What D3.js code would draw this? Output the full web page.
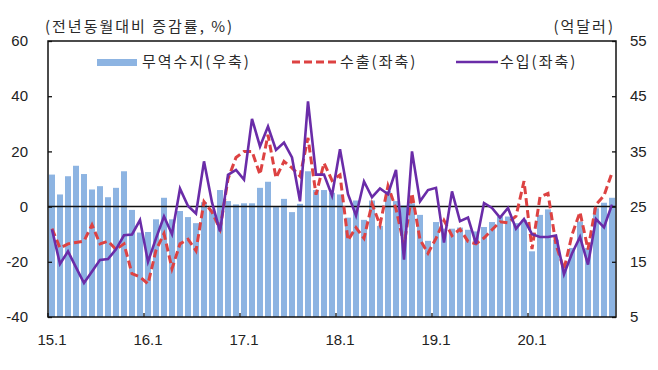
<!DOCTYPE html>
<html>
<head>
<meta charset="utf-8">
<script src="https://cdn.jsdelivr.net/npm/d3@7"></script>
<style>
  body { margin: 0; background: #fff; }
  svg { display: block; }
  .num { font-family: "Liberation Sans", Arial, sans-serif; font-size: 15px; fill: #222; }
  .kor { font-family: "Noto Sans CJK KR", sans-serif; font-size: 15px; fill: #2a2a2a; letter-spacing: 2px; }
</style>
</head>
<body>
<div id="chart"></div>
<script>
// ---- data ----
// monthly, 2015.1 ~ 2020.11
const years = [15, 16, 17, 18, 19, 20];
const lastMonth = 11; // data ends at 20.11

// 무역수지 (억달러, right axis)
const balance = [
  30.8, 27.2, 30.5, 32.4, 30.9, 28.1, 28.7, 26.7, 28.4, 31.4, 24.4, 20.3,
  20.4, 22.7, 26.6, 22.7, 24.2, 23.1, 22.0, 25.8, 24.5, 28.0, 26.0, 25.4,
  25.6, 25.6, 28.4, 29.5, 24.9, 26.4, 24.0, 25.5, 31.4, 28.0, 28.0, 27.5,
  27.2, 23.0, 26.1, 22.6, 26.1, 21.5, 27.8, 26.0, 25.2, 25.6, 23.5, 18.8,
  22.2, 21.0, 21.0, 21.2, 20.8, 20.5, 21.3, 22.2, 23.2, 23.2, 22.0, 22.6,
  16.9, 23.5, 24.5, 19.0, 14.5, 17.5, 22.3, 17.5, 24.7, 25.7, 26.6
];
// 수출 증감률 (%, left axis)
const exports = [
  -8.0, -15.0, -13.5, -13.0, -12.5, -6.6, -13.5, -12.5, -15.5, -13.5, -24.3, -25.5,
  -28.0, -15.8, -9.8, -22.5, -13.5, -11.8, -16.0, 1.8, -2.0, -8.2, 10.0, 17.8,
  20.0, 20.0, 11.6, 26.0, 10.4, 16.4, 14.0, 11.0, 24.9, 4.3, 15.8, 9.5,
  11.5, -12.2, -7.6, -11.5, 1.0, -6.6, 7.5, -0.8, -14.0, 4.8, -12.0, -16.9,
  -11.5, -5.0, -10.5, -8.2, -12.6, -13.5, -11.4, -8.4, -5.5, -5.9, -3.5, 9.2,
  -15.4, 3.5, 4.8, -13.8, -22.8, -10.2, -2.0, -15.5, 0.7, 4.0, 12.2
];
// 수입 증감률 (%, left axis)
const imports = [
  -8.3, -20.8, -16.2, -22.0, -27.7, -23.5, -19.3, -19.0, -15.5, -10.4, -10.1, -4.9,
  -20.0, -11.5, -3.6, -10.0, 6.5, 0.2, -2.5, 16.4, 1.5, -9.0, 11.5, 13.3,
  9.8, 31.8, 21.8, 29.0, 20.5, 23.2, 17.8, 1.9, 38.1, 11.6, 11.6, 4.0,
  20.8, 4.5, -3.2, 9.1, 3.4, 6.6, 4.5, 13.3, -19.2, 20.0, 1.9, 6.0,
  6.8, -13.0, 5.5, -5.3, -4.0, -13.5, 1.3, -0.5, -4.0, -0.5, -8.0, -4.5,
  -10.0, -11.0, -11.0, -10.5, -24.5, -17.0, -11.0, -21.0, -4.5, -7.5, 0.7
];

const leftTicks = [-40, -20, 0, 20, 40, 60];
const rightTicks = [5, 15, 25, 35, 45, 55];
const xTickLabels = ["15.1", "16.1", "17.1", "18.1", "19.1", "20.1"];

const legendItems = ["무역수지(우축)", "수출(좌축)", "수입(좌축)"];
const leftTitle = "(전년동월대비 증감률, %)";
const rightTitle = "(억달러)";

// month keys like "15.1" ... "20.11"
const months = [];
years.forEach(y => {
  const n = (y === years[years.length - 1]) ? lastMonth : 12;
  for (let m = 1; m <= n; m++) months.push(y + "." + m);
});

// ---- layout ----
const W = 658, H = 370;
const plot = { left: 48, right: 616, top: 41, bottom: 317 };

const svg = d3.select("#chart").append("svg")
  .attr("width", W)
  .attr("height", H);

const x = d3.scaleBand()
  .domain(months)
  .range([plot.left, plot.right])
  .paddingInner(0.25)
  .paddingOuter(0.125);

const yL = d3.scaleLinear().domain([-40, 60]).range([plot.bottom, plot.top]);
const yR = d3.scaleLinear().domain([5, 55]).range([plot.bottom, plot.top]);

const step = x.step();
const cx = d => x(d) + x.bandwidth() / 2;

// bars: trade balance, from the right axis floor
svg.append("g")
  .selectAll("rect")
  .data(balance)
  .join("rect")
  .attr("x", (d, i) => x(months[i]))
  .attr("y", d => yR(d))
  .attr("width", x.bandwidth())
  .attr("height", d => yR(5) - yR(d))
  .attr("fill", "#8DB4E2");

// zero line
svg.append("line")
  .attr("x1", plot.left).attr("x2", plot.right)
  .attr("y1", yL(0)).attr("y2", yL(0))
  .attr("stroke", "#111").attr("stroke-width", 1.5);

// lines
const line = d3.line()
  .x((d, i) => cx(months[i]))
  .y(d => yL(d));

svg.append("path")
  .datum(exports)
  .attr("d", line)
  .attr("fill", "none")
  .attr("stroke", "#DD4242")
  .attr("stroke-width", 3)
  .attr("stroke-dasharray", "8,4");

svg.append("path")
  .datum(imports)
  .attr("d", line)
  .attr("fill", "none")
  .attr("stroke", "#6A2CA8")
  .attr("stroke-width", 2.6)
  .attr("stroke-linejoin", "miter");

// frame
svg.append("rect")
  .attr("x", plot.left).attr("y", plot.top)
  .attr("width", plot.right - plot.left)
  .attr("height", plot.bottom - plot.top)
  .attr("fill", "none")
  .attr("stroke", "#111")
  .attr("stroke-width", 1.5);

// left axis (ticks point inward)
const axL = svg.append("g")
  .attr("transform", `translate(${plot.left},0)`)
  .call(d3.axisRight(yL).tickValues(leftTicks).tickSize(4).tickFormat(""));
axL.select(".domain").remove();
axL.selectAll("line").attr("stroke", "#111").attr("stroke-width", 1.3);

svg.append("g").selectAll("text")
  .data(leftTicks)
  .join("text")
  .attr("class", "num")
  .attr("x", 28)
  .attr("y", d => yL(d))
  .attr("dy", "0.35em")
  .attr("text-anchor", "end")
  .text(d => d);

// right axis (ticks point inward)
const axR = svg.append("g")
  .attr("transform", `translate(${plot.right},0)`)
  .call(d3.axisLeft(yR).tickValues(rightTicks).tickSize(4).tickFormat(""));
axR.select(".domain").remove();
axR.selectAll("line").attr("stroke", "#111").attr("stroke-width", 1.3);

svg.append("g").selectAll("text")
  .data(rightTicks)
  .join("text")
  .attr("class", "num")
  .attr("x", 630)
  .attr("y", d => yR(d))
  .attr("dy", "0.35em")
  .attr("text-anchor", "start")
  .text(d => d);

// bottom axis: tick at the start of each year, label under the January bar
svg.append("g").selectAll("line")
  .data(xTickLabels)
  .join("line")
  .attr("x1", d => x(d) - (step - x.bandwidth()) / 2)
  .attr("x2", d => x(d) - (step - x.bandwidth()) / 2)
  .attr("y1", plot.bottom)
  .attr("y2", plot.bottom - 4)
  .attr("stroke", "#111").attr("stroke-width", 1.3);

svg.append("g").selectAll("text")
  .data(xTickLabels)
  .join("text")
  .attr("class", "num")
  .attr("x", d => cx(d))
  .attr("y", 345)
  .attr("text-anchor", "middle")
  .text(d => d);

// axis titles
svg.append("text").attr("class", "kor")
  .attr("x", 45).attr("y", 32)
  .text(leftTitle);
svg.append("text").attr("class", "kor")
  .attr("x", 615).attr("y", 32)
  .attr("text-anchor", "end")
  .text(rightTitle);

// legend
const lg = svg.append("g");
lg.append("rect")
  .attr("x", 97).attr("y", 59).attr("width", 40).attr("height", 7)
  .attr("fill", "#8DB4E2");
lg.append("text").attr("class", "kor")
  .attr("x", 142).attr("y", 62).attr("dy", "0.35em")
  .text(legendItems[0]);

lg.append("line")
  .attr("x1", 292).attr("x2", 337).attr("y1", 62).attr("y2", 62)
  .attr("stroke", "#DD4242").attr("stroke-width", 3)
  .attr("stroke-dasharray", "8,4");
lg.append("text").attr("class", "kor")
  .attr("x", 340).attr("y", 62).attr("dy", "0.35em")
  .text(legendItems[1]);

lg.append("line")
  .attr("x1", 456).attr("x2", 498).attr("y1", 62).attr("y2", 62)
  .attr("stroke", "#6A2CA8").attr("stroke-width", 2.6);
lg.append("text").attr("class", "kor")
  .attr("x", 500).attr("y", 62).attr("dy", "0.35em")
  .text(legendItems[2]);
</script>
</body>
</html>
